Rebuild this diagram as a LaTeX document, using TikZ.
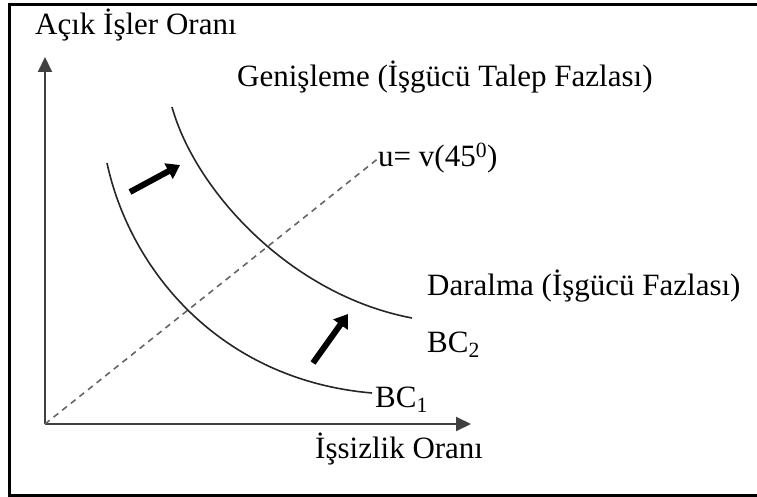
\documentclass[tikz,border=0pt]{standalone}
\usepackage{fontspec}
\setmainfont{Liberation Serif}
\usetikzlibrary{arrows.meta, positioning}
\tikzstyle{axis} = [line width=2pt, draw=black!75, -{Triangle[length=15pt,width=14pt]}]

\begin{document}
\begin{tikzpicture}[x=1pt, y=-1pt,
  lbl/.style={inner sep=0pt, anchor=base west, font=\fontsize{31}{33}\selectfont},
  curve/.style={line width=1.6pt, draw=black!85},
  movearrow/.style={line width=6pt, -{Triangle[length=13pt,width=17pt]}},
  guide/.style={line width=1.6pt, draw=black!60, dash pattern=on 6pt off 5pt}
]
\useasboundingbox (0,0) rectangle (757,497);

% Frame
\draw[line width=3pt] (757,5) -- (9,5) -- (9,495) -- (757,495);

% Axes
\coordinate (O) at (45,424);
\coordinate (ytop) at (45,57);
\coordinate (xend) at (471,424);
\draw[axis] (O) -- (ytop);
\draw[axis] (O) -- (xend);

% Labels
\node[lbl] (ylab) at (35,35) {Açık İşler Oranı};
\node[lbl] (xlab) at (315,458) {İşsizlik Oranı};
\node[lbl] (gen) at (237,87) {Genişleme (İşgücü Talep Fazlası)};
\node[lbl] (uv) at (378,167) {u= v(45\textsuperscript{0})};
\node[lbl] (dar) at (427,295) {Daralma (İşgücü Fazlası)};
\node[lbl] (bc2) at (427,352) {BC\textsubscript{2}};
\node[lbl] (bc1) at (375,407) {BC\textsubscript{1}};

% 45 degree line
\draw[guide] (O) -- (uv.west);

% Curves
\coordinate (c1s) at (107,163);
\coordinate (c1e) at (372,393);
\coordinate (c2s) at (172,107);
\coordinate (c2e) at (412,318);
\draw[curve] (c1s) .. controls (130,270) and (220,380) .. (c1e);
\draw[curve] (c2s) .. controls (195,190) and (290,295) .. (c2e);

% Shift arrows
\coordinate (a1s) at (130,192);
\coordinate (a1e) at (180,165);
\coordinate (a2s) at (313,363);
\coordinate (a2e) at (348,314);
\draw[movearrow] (a1s) -- (a1e);
\draw[movearrow] (a2s) -- (a2e);

\end{tikzpicture}
\end{document}
